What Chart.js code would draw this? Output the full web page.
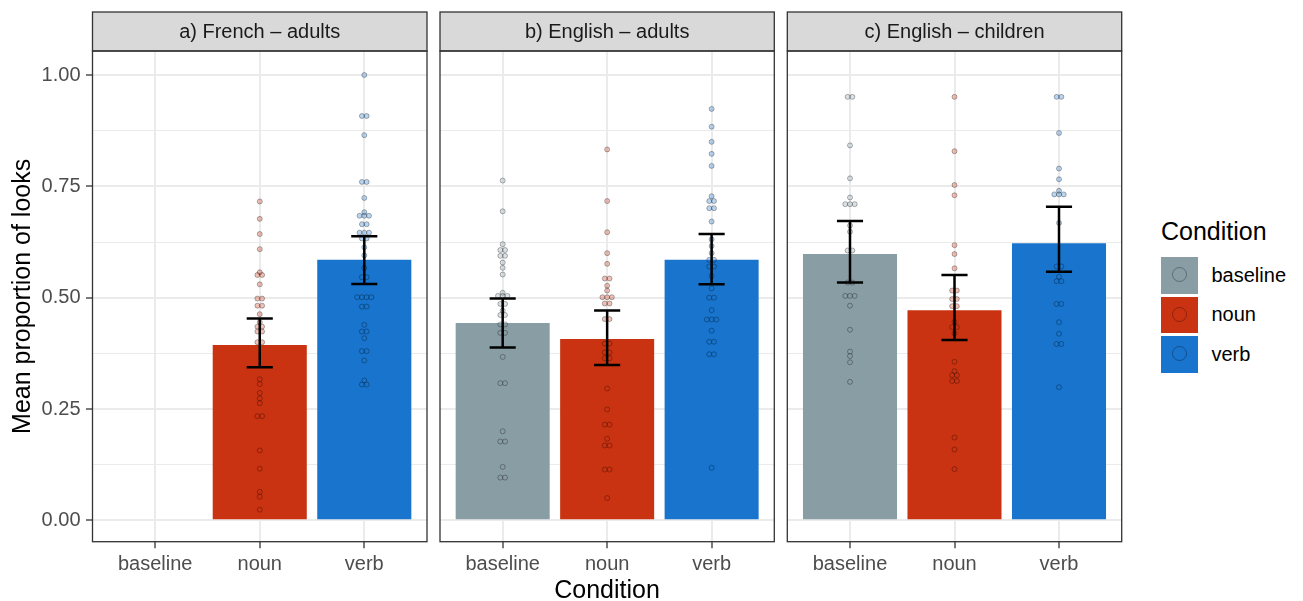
<!DOCTYPE html>
<html>
<head>
<meta charset="utf-8">
<title>Mean proportion of looks by condition</title>
<script src="https://cdn.jsdelivr.net/npm/chart.js@4.4.1/dist/chart.umd.min.js"></script>
<style>
  html, body { margin: 0; padding: 0; background: #ffffff; }
  #wrap { position: relative; width: 1303px; height: 601px; overflow: hidden;
          font-family: "Liberation Sans", Arial, Helvetica, sans-serif; }
  #wrap canvas { position: absolute; top: 0; }
  .xtitle { position: absolute; left: 0; width: 1214px; top: 574px; text-align: center;
            font-size: 25px; line-height: 30px; color: #000; }
  #legend { position: absolute; left: 1161px; top: 216px; }
  #legend .ltitle { font-size: 25px; line-height: 30px; color: #000; margin-bottom: 11px; }
  #legend .row { display: flex; align-items: center; height: 36.5px; margin-bottom: 3px; }
  #legend .key { width: 37px; height: 36.5px; position: relative; }
  #legend .key span { position: absolute; left: 50%; top: 50%; width: 13px; height: 13px;
                      margin: -8px 0 0 -8px; border-radius: 50%;
                      border: 1.5px solid rgba(0,0,0,0.3); }
  #legend .lab { font-size: 20px; color: #000; margin-left: 13.5px; }
</style>
</head>
<body>
<div id="wrap">
  <canvas id="pA" width="440" height="601" style="left:0px"></canvas>
  <canvas id="pB" width="346" height="601" style="left:434px"></canvas>
  <canvas id="pC" width="346" height="601" style="left:781px"></canvas>
  <div class="xtitle">Condition</div>
  <div id="legend"></div>
</div>
<script>
// ---- data ----------------------------------------------------------------
const categories = ['baseline', 'noun', 'verb'];
const panelTitles = ['a) French – adults', 'b) English – adults', 'c) English – children'];
const yTicks = [0, 0.25, 0.5, 0.75, 1];

// condition means (bar heights)
const meanFrAdults    = [null, 0.394, 0.585];
const meanEnAdults    = [0.443, 0.407, 0.585];
const meanEnChildren  = [0.598, 0.472, 0.622];

// error bar limits
const lowFrAdults     = [null, 0.344, 0.531];
const highFrAdults    = [null, 0.453, 0.638];
const lowEnAdults     = [0.388, 0.349, 0.530];
const highEnAdults    = [0.498, 0.471, 0.643];
const lowEnChildren   = [0.534, 0.405, 0.558];
const highEnChildren  = [0.672, 0.551, 0.704];

// per-participant proportions
const frAdultsBaseline = [];
const frAdultsNoun = [0.716, 0.677, 0.643, 0.609, 0.557, 0.551, 0.551, 0.530, 0.498, 0.498,
  0.482, 0.482, 0.463, 0.445, 0.435, 0.435, 0.424, 0.424, 0.400, 0.400, 0.317, 0.306, 0.286,
  0.274, 0.263, 0.234, 0.234, 0.157, 0.116, 0.064, 0.053, 0.024];
const frAdultsVerb = [1.000, 0.908, 0.908, 0.865, 0.760, 0.760, 0.724, 0.692, 0.684, 0.684,
  0.684, 0.665, 0.665, 0.646, 0.646, 0.646, 0.633, 0.633, 0.613, 0.595, 0.567, 0.546, 0.546,
  0.501, 0.501, 0.501, 0.501, 0.480, 0.480, 0.439, 0.424, 0.424, 0.409, 0.380, 0.380, 0.359,
  0.314, 0.305, 0.305];
const enAdultsBaseline = [0.763, 0.694, 0.620, 0.607, 0.607, 0.594, 0.594, 0.579, 0.567, 0.552,
  0.511, 0.504, 0.504, 0.504, 0.486, 0.486, 0.471, 0.461, 0.461, 0.440, 0.440, 0.421, 0.421,
  0.367, 0.308, 0.308, 0.200, 0.177, 0.177, 0.120, 0.096, 0.096];
const enAdultsNoun = [0.833, 0.717, 0.647, 0.600, 0.576, 0.543, 0.543, 0.527, 0.516, 0.501,
  0.501, 0.501, 0.487, 0.487, 0.452, 0.452, 0.397, 0.397, 0.377, 0.377, 0.364, 0.364, 0.296,
  0.249, 0.215, 0.215, 0.183, 0.168, 0.168, 0.114, 0.114, 0.050];
const enAdultsVerb = [0.924, 0.884, 0.850, 0.823, 0.796, 0.728, 0.717, 0.717, 0.701, 0.701,
  0.671, 0.631, 0.616, 0.600, 0.585, 0.585, 0.570, 0.570, 0.549, 0.521, 0.500, 0.500, 0.472,
  0.451, 0.451, 0.451, 0.426, 0.401, 0.401, 0.373, 0.373, 0.118];
const enChildrenBaseline = [0.951, 0.951, 0.842, 0.768, 0.725, 0.710, 0.710, 0.710, 0.662,
  0.648, 0.606, 0.606, 0.534, 0.534, 0.504, 0.504, 0.504, 0.482, 0.428, 0.379, 0.369, 0.355,
  0.311];
const enChildrenNoun = [0.951, 0.829, 0.753, 0.730, 0.618, 0.598, 0.566, 0.516, 0.516, 0.497,
  0.497, 0.481, 0.481, 0.446, 0.434, 0.434, 0.420, 0.356, 0.335, 0.326, 0.326, 0.313, 0.313,
  0.186, 0.159, 0.115];
const enChildrenVerb = [0.951, 0.951, 0.870, 0.790, 0.766, 0.740, 0.732, 0.732, 0.732, 0.668,
  0.570, 0.570, 0.547, 0.537, 0.537, 0.486, 0.486, 0.445, 0.419, 0.396, 0.396, 0.299];

// ---- styling ---------------------------------------------------------------
const FONT = '"Liberation Sans", Arial, Helvetica, sans-serif';
const COLORS = ['#899DA4', '#C93312', '#1874CD'];
const GRID = '#EBEBEB';
const DARK = '#333333';
const DOT_STEP = 0.045;     // horizontal spacing of tied points, in category units
const CAP_HALF = 0.125;     // half width of the error bar caps, in category units

function withAlpha(hex, a) {
  const n = parseInt(hex.slice(1), 16);
  return `rgba(${(n >> 16) & 255},${(n >> 8) & 255},${n & 255},${a})`;
}
function isMajor(v) { return yTicks.some(t => Math.abs(t - v) < 1e-9); }
const yMinor = yTicks.slice(1).map((t, i) => (t + yTicks[i]) / 2);
const yAllTicks = yTicks.concat(yMinor).sort((a, b) => a - b);

// spread tied values side by side around the category centre
function swarm(values, centre) {
  const counts = {}, seen = {};
  values.forEach(v => { counts[v] = (counts[v] || 0) + 1; });
  return values.map(v => {
    const k = seen[v] = (seen[v] === undefined ? 0 : seen[v] + 1);
    return { x: centre + (k - (counts[v] - 1) / 2) * DOT_STEP, y: v };
  });
}

// strip header, panel frame and error bars for one facet
function facetPlugin(title, lo, hi) {
  return {
    id: 'facet',
    afterDatasetsDraw(chart) {
      const { ctx, scales: { x, y } } = chart;
      ctx.save();
      ctx.strokeStyle = '#000';
      ctx.lineWidth = 2.5;
      categories.forEach((c, i) => {
        if (lo[i] == null || hi[i] == null) return;
        const cx = x.getPixelForValue(i + 1);
        const xl = x.getPixelForValue(i + 1 - CAP_HALF);
        const xr = x.getPixelForValue(i + 1 + CAP_HALF);
        const yl = y.getPixelForValue(lo[i]);
        const yh = y.getPixelForValue(hi[i]);
        ctx.beginPath();
        ctx.moveTo(cx, yl); ctx.lineTo(cx, yh);
        ctx.moveTo(xl, yh); ctx.lineTo(xr, yh);
        ctx.moveTo(xl, yl); ctx.lineTo(xr, yl);
        ctx.stroke();
      });
      ctx.restore();
    },
    afterDraw(chart) {
      const { ctx, chartArea: a } = chart;
      const stripTop = 12;
      ctx.save();
      ctx.fillStyle = '#D9D9D9';
      ctx.fillRect(a.left, stripTop, a.right - a.left, a.top - stripTop);
      ctx.strokeStyle = DARK;
      ctx.lineWidth = 1.3;
      ctx.strokeRect(a.left, stripTop, a.right - a.left, a.top - stripTop);
      ctx.strokeRect(a.left, a.top, a.right - a.left, a.bottom - a.top);
      ctx.fillStyle = '#1A1A1A';
      ctx.font = '20px ' + FONT;
      ctx.textAlign = 'center';
      ctx.textBaseline = 'middle';
      ctx.fillText(title, (a.left + a.right) / 2, (stripTop + a.top) / 2 + 0.5);
      ctx.restore();
    }
  };
}

function makePanel(canvasId, title, means, lo, hi, groups, withYAxis, padLeft, padRight) {
  const datasets = [{
    type: 'bar',
    data: categories.map((c, i) => ({ x: i + 1, y: means[i] })),
    backgroundColor: COLORS,
    borderWidth: 0,
    barPercentage: 0.9,
    categoryPercentage: 1,
    order: 3
  }];
  groups.forEach((vals, i) => {
    datasets.push({
      type: 'scatter',
      data: swarm(vals, i + 1),
      pointRadius: 2.5,
      pointBorderWidth: 0.9,
      pointBackgroundColor: withAlpha(COLORS[i], 0.3),
      pointBorderColor: 'rgba(0,0,0,0.33)',
      order: 2
    });
  });

  const yScale = {
    type: 'linear',
    min: -0.048,
    max: 1.054,
    afterBuildTicks: s => { s.ticks = yAllTicks.map(v => ({ value: v })); },
    grid: {
      color: GRID,
      lineWidth: ctx => (ctx.tick && isMajor(ctx.tick.value)) ? 2 : 1,
      drawTicks: withYAxis,
      tickLength: 6.5,
      tickWidth: 1.3,
      tickColor: ctx => (ctx.tick && isMajor(ctx.tick.value)) ? DARK : 'rgba(0,0,0,0)'
    },
    border: { display: false },
    ticks: {
      display: withYAxis,
      autoSkip: false,
      padding: 5.5,
      color: '#4D4D4D',
      font: { family: FONT, size: 20 },
      callback: v => isMajor(v) ? v.toFixed(2) : ''
    },
    title: {
      display: withYAxis,
      text: 'Mean proportion of looks',
      color: '#000',
      font: { family: FONT, size: 25 },
      padding: { top: 8, bottom: 0 }
    },
    afterFit: s => { s.width = withYAxis ? 92.5 : 0; }
  };

  return new Chart(document.getElementById(canvasId), {
    type: 'bar',
    data: { datasets },
    options: {
      responsive: false,
      animation: false,
      events: [],
      layout: { padding: { top: 51, left: padLeft, right: padRight, bottom: 0 }, autoPadding: false },
      plugins: { legend: { display: false }, tooltip: { enabled: false } },
      scales: {
        x: {
          type: 'linear',
          min: 0.4,
          max: 3.6,
          offset: false,
          afterBuildTicks: s => { s.ticks = categories.map((c, i) => ({ value: i + 1 })); },
          grid: { color: GRID, lineWidth: 2, offset: false, tickLength: 6.5, tickWidth: 1.3, tickColor: DARK },
          border: { display: false },
          ticks: {
            autoSkip: false, maxRotation: 0, minRotation: 0, padding: 4,
            color: '#4D4D4D',
            font: { family: FONT, size: 20 },
            callback: v => categories[Math.round(v) - 1]
          },
          afterFit: s => { s.height = 59.3; }
        },
        y: yScale
      }
    },
    plugins: [facetPlugin(title, lo, hi)]
  });
}

makePanel('pA', panelTitles[0], meanFrAdults, lowFrAdults, highFrAdults,
  [frAdultsBaseline, frAdultsNoun, frAdultsVerb], true, 0, 13);
makePanel('pB', panelTitles[1], meanEnAdults, lowEnAdults, highEnAdults,
  [enAdultsBaseline, enAdultsNoun, enAdultsVerb], false, 6, 5.7);
makePanel('pC', panelTitles[2], meanEnChildren, lowEnChildren, highEnChildren,
  [enChildrenBaseline, enChildrenNoun, enChildrenVerb], false, 6.3, 5.3);

// legend
const legend = document.getElementById('legend');
const lt = document.createElement('div');
lt.className = 'ltitle';
lt.textContent = 'Condition';
legend.appendChild(lt);
categories.forEach((c, i) => {
  const row = document.createElement('div');
  row.className = 'row';
  const key = document.createElement('div');
  key.className = 'key';
  key.style.background = COLORS[i];
  key.appendChild(document.createElement('span'));
  const lab = document.createElement('div');
  lab.className = 'lab';
  lab.textContent = c;
  row.appendChild(key);
  row.appendChild(lab);
  legend.appendChild(row);
});
</script>
</body>
</html>
